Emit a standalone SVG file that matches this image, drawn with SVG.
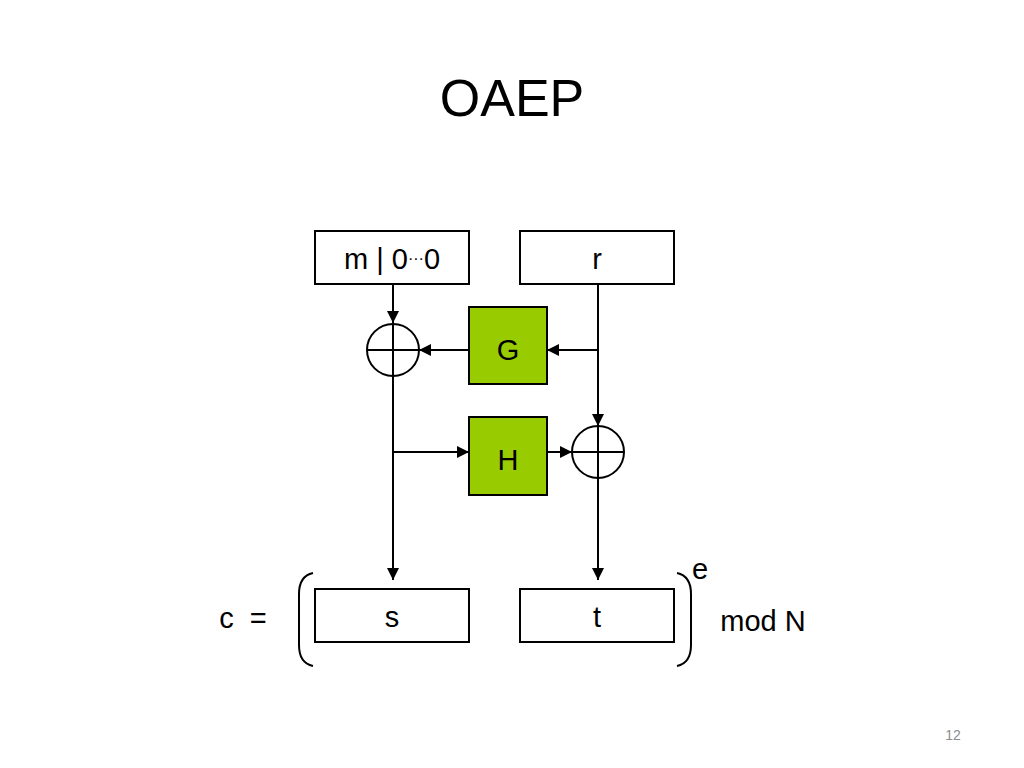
<svg xmlns="http://www.w3.org/2000/svg" width="1024" height="768" viewBox="0 0 1024 768">
<defs>
<style>
.box{fill:#fff;stroke:#000;stroke-width:2}
.fn{fill:#99cc00;stroke:#000;stroke-width:2}
.xor{fill:none;stroke:#000;stroke-width:2}
.ln{fill:none;stroke:#000;stroke-width:2}
.t{font-family:"Liberation Sans",Arial,sans-serif;fill:#000;text-anchor:middle}
.lbl{font-size:29px}
</style>
<marker id="ah" viewBox="0 0 10 10" refX="10" refY="5" markerWidth="12" markerHeight="12" markerUnits="userSpaceOnUse" orient="auto">
<path d="M0,0 L10,5 L0,10 Z" fill="#000"/>
</marker>
</defs>
<rect width="1024" height="768" fill="#fff"/>
<text class="t" x="512" y="116" font-size="52">OAEP</text>

<g id="connectors">
<line class="ln" x1="393" y1="284" x2="393" y2="323" marker-end="url(#ah)"/>
<line class="ln" x1="393" y1="376" x2="393" y2="580" marker-end="url(#ah)"/>
<line class="ln" x1="598" y1="284" x2="598" y2="426" marker-end="url(#ah)"/>
<line class="ln" x1="598" y1="478" x2="598" y2="580" marker-end="url(#ah)"/>
<line class="ln" x1="598" y1="350" x2="547" y2="350" marker-end="url(#ah)"/>
<line class="ln" x1="469" y1="350" x2="419" y2="350" marker-end="url(#ah)"/>
<line class="ln" x1="393" y1="452" x2="469" y2="452" marker-end="url(#ah)"/>
<line class="ln" x1="547" y1="452" x2="572" y2="452" marker-end="url(#ah)"/>
</g>

<g id="m">
<rect class="box" x="315" y="231" width="154" height="53"/>
<text class="t lbl" x="392" y="269">m | 0<tspan font-size="16" dy="-5">···</tspan><tspan dy="5">0</tspan></text>
</g>
<g id="r">
<rect class="box" x="520" y="231" width="154" height="53"/>
<text class="t lbl" x="597" y="269">r</text>
</g>
<g id="xor1">
<circle class="xor" cx="393" cy="350" r="26"/>
<line class="ln" x1="367" y1="350" x2="419" y2="350"/>
<line class="ln" x1="393" y1="324" x2="393" y2="376"/>
</g>
<g id="G">
<rect class="fn" x="469" y="307" width="78" height="77"/>
<text class="t lbl" x="508" y="360">G</text>
</g>
<g id="H">
<rect class="fn" x="469" y="417" width="78" height="78"/>
<text class="t lbl" x="508" y="470">H</text>
</g>
<g id="xor2">
<circle class="xor" cx="598" cy="452" r="26"/>
<line class="ln" x1="572" y1="452" x2="624" y2="452"/>
<line class="ln" x1="598" y1="426" x2="598" y2="478"/>
</g>
<g id="s">
<rect class="box" x="315" y="589" width="154" height="53"/>
<text class="t lbl" x="392" y="627">s</text>
</g>
<g id="t">
<rect class="box" x="520" y="589" width="154" height="53"/>
<text class="t lbl" x="597" y="627">t</text>
</g>
<g id="formula">
<text class="t lbl" x="243" y="628" xml:space="preserve">c  =</text>
<path class="ln" d="M313,573 Q299,576 299,594 L299,645 Q299,663 313,666" stroke-width="2.5"/>
<path class="ln" d="M677,573 Q691,576 691,594 L691,645 Q691,663 677,666" stroke-width="2.5"/>
<text class="t lbl" x="700" y="579">e</text>
<text class="t lbl" x="763" y="631">mod N</text>
</g>
<text x="953" y="740" font-family="Liberation Sans,Arial,sans-serif" font-size="14" fill="#8c8c8c" text-anchor="middle">12</text>
</svg>
